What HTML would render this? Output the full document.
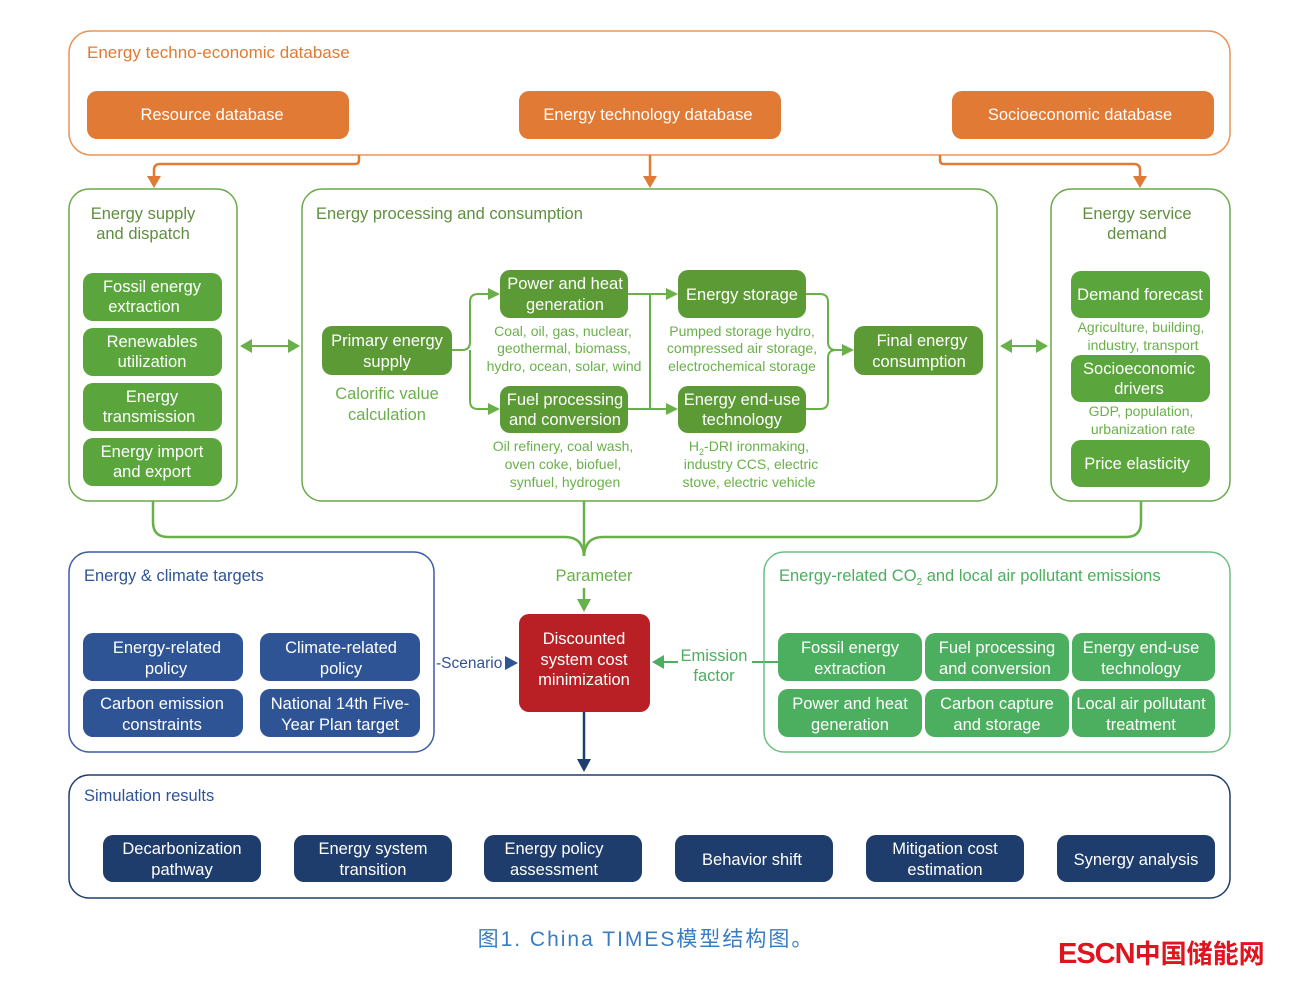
<!DOCTYPE html>
<html><head><meta charset="utf-8"><style>
html,body{margin:0;padding:0;background:#fff;}
svg{display:block;font-family:"Liberation Sans",Arial,sans-serif;}
</style></head><body>
<svg width="1292" height="984" viewBox="0 0 1292 984" xmlns="http://www.w3.org/2000/svg">
<!-- top -->
<rect x="69" y="31" width="1161" height="124" rx="22" fill="none" stroke="#E8955A" stroke-width="1.5"/>
<text x="87" y="58" font-size="17" fill="#E07A34">Energy techno-economic database</text>
<g font-size="16.5" fill="#fff" text-anchor="middle">
<rect x="87" y="91" width="262" height="48" rx="10" fill="#E07A34"/><text x="212" y="120">Resource database</text>
<rect x="519" y="91" width="262" height="48" rx="10" fill="#E07A34"/><text x="648" y="120">Energy technology database</text>
<rect x="952" y="91" width="262" height="48" rx="10" fill="#E07A34"/><text x="1080" y="120">Socioeconomic database</text>
</g>
<g stroke="#E07A34" stroke-width="2.5" fill="none">
<path d="M359,155 V160 Q359,164 355,164 H160 Q154,164 154,170 V178"/>
<path d="M650,155 V178"/>
<path d="M940,155 V160 Q940,164 944,164 H1134 Q1140,164 1140,170 V178"/>
</g>
<g fill="#E07A34"><path d="M147,176 L161,176 L154,188z"/><path d="M643,176 L657,176 L650,188z"/><path d="M1133,176 L1147,176 L1140,188z"/></g>

<!-- green containers -->
<g fill="none" stroke="#6AAA4A" stroke-width="1.5">
<rect x="69" y="189" width="168" height="312" rx="20"/>
<rect x="302" y="189" width="695" height="312" rx="20"/>
<rect x="1051" y="189" width="179" height="312" rx="20"/>
</g>
<g font-size="16.5" fill="#5E8F3E">
<text x="143" y="219" text-anchor="middle">Energy supply</text><text x="143" y="239" text-anchor="middle">and dispatch</text>
<text x="316" y="219">Energy processing and consumption</text>
<text x="1137" y="219" text-anchor="middle">Energy service</text><text x="1137" y="239" text-anchor="middle">demand</text>
</g>
<g fill="#5BA63C"><rect x="83" y="273" width="139" height="48" rx="10"/><rect x="83" y="328" width="139" height="48" rx="10"/><rect x="83" y="383" width="139" height="48" rx="10"/><rect x="83" y="438" width="139" height="48" rx="10"/>
<rect x="1071" y="271" width="139" height="47" rx="10"/><rect x="1071" y="355" width="139" height="47" rx="10"/><rect x="1071" y="440" width="139" height="47" rx="10"/></g>
<g font-size="16.5" fill="#fff" text-anchor="middle">
<text x="152" y="292">Fossil energy</text><text x="144" y="312">extraction</text>
<text x="152" y="347">Renewables</text><text x="152" y="367">utilization</text>
<text x="152" y="402">Energy</text><text x="149" y="422">transmission</text>
<text x="152" y="457">Energy import</text><text x="152" y="477">and export</text>
<text x="1140" y="300">Demand forecast</text>
<text x="1139" y="374">Socioeconomic</text><text x="1139" y="394">drivers</text>
<text x="1137" y="469">Price elasticity</text>
</g>
<g font-size="14" fill="#6AB04A" text-anchor="middle">
<text x="1141" y="332">Agriculture, building,</text><text x="1143" y="350">industry, transport</text>
<text x="1141" y="416">GDP, population,</text><text x="1143" y="434">urbanization rate</text>
</g>
<!-- processing -->
<g fill="#5C9A35">
<rect x="322" y="326" width="130" height="49" rx="10"/>
<rect x="500" y="270" width="128" height="48" rx="10"/>
<rect x="500" y="386" width="128" height="47" rx="10"/>
<rect x="678" y="270" width="128" height="48" rx="10"/>
<rect x="678" y="386" width="128" height="47" rx="10"/>
<rect x="854" y="326" width="129" height="49" rx="10"/>
</g>
<g font-size="16.5" fill="#fff" text-anchor="middle">
<text x="387" y="346">Primary energy</text><text x="387" y="367">supply</text>
<text x="565" y="289">Power and heat</text><text x="565" y="310">generation</text>
<text x="565" y="405">Fuel processing</text><text x="565" y="425">and conversion</text>
<text x="742" y="300">Energy storage</text>
<text x="742" y="405">Energy end-use</text><text x="742" y="425">technology</text>
<text x="922" y="346">Final energy</text><text x="919" y="367">consumption</text>
</g>
<g font-size="16.5" fill="#6AB04A" text-anchor="middle"><text x="387" y="399">Calorific value</text><text x="387" y="420">calculation</text></g>
<g font-size="14" fill="#6AB04A" text-anchor="middle">
<text x="563" y="336">Coal, oil, gas, nuclear,</text><text x="564" y="353">geothermal, biomass,</text><text x="564" y="371">hydro, ocean, solar, wind</text>
<text x="742" y="336">Pumped storage hydro,</text><text x="742" y="353">compressed air storage,</text><text x="742" y="371">electrochemical storage</text>
<text x="563" y="451">Oil refinery, coal wash,</text><text x="563" y="469">oven coke, biofuel,</text><text x="565" y="487">synfuel, hydrogen</text>
<text x="749" y="451">H<tspan font-size="9" dy="4">2</tspan><tspan dy="-4">-DRI ironmaking,</tspan></text><text x="751" y="469">industry CCS, electric</text><text x="749" y="487">stove, electric vehicle</text>
</g>
<g stroke="#6AB04A" stroke-width="2" fill="none">
<path d="M452,350 H462 Q470,350 470,342 V302 Q470,294 478,294 H490"/>
<path d="M470,350 Q470,358 470,366 V401 Q470,409 478,409 H490"/>
<path d="M628,294 H668 M628,409 H668 M650,294 V409"/>
<path d="M806,294 H820 Q828,294 828,302 V342 Q828,350 836,350 H844"/>
<path d="M806,409 H820 Q828,409 828,401 V358 Q828,350 836,350"/>
<path d="M250,346 H290 M1010,346 H1038"/>
</g>
<g fill="#6AB04A">
<path d="M488,288 L500,294 L488,300z"/><path d="M488,403 L500,409 L488,415z"/>
<path d="M666,288 L678,294 L666,300z"/><path d="M666,403 L678,409 L666,415z"/>
<path d="M842,344 L854,350 L842,356z"/>
<path d="M252,339 L240,346 L252,353z"/><path d="M288,339 L300,346 L288,353z"/>
<path d="M1012,339 L1000,346 L1012,353z"/><path d="M1036,339 L1048,346 L1036,353z"/>
</g>
<!-- connectors to center -->
<g stroke="#6AB04A" stroke-width="2.5" fill="none">
<path d="M153,501 V522 Q153,537 168,537 H565 Q583,537 584,556"/>
<path d="M1141,501 V522 Q1141,537 1126,537 H603 Q585,537 584,556"/>
<path d="M584,501 V556"/>
<path d="M584,588 V600"/>
</g>
<path d="M577,599 L591,599 L584,612z" fill="#6AB04A"/>
<text x="594" y="581" font-size="16.5" fill="#6AB04A" text-anchor="middle">Parameter</text>

<!-- blue container -->
<rect x="69" y="552" width="365" height="200" rx="20" fill="none" stroke="#3A5CA8" stroke-width="1.5"/>
<text x="84" y="581" font-size="16.5" fill="#2E5496">Energy &amp; climate targets</text>
<g fill="#2E5496"><rect x="83" y="633" width="160" height="48" rx="10"/><rect x="260" y="633" width="160" height="48" rx="10"/><rect x="83" y="689" width="160" height="48" rx="10"/><rect x="260" y="689" width="160" height="48" rx="10"/></g>
<g font-size="16.5" fill="#fff" text-anchor="middle">
<text x="167" y="653">Energy-related</text><text x="166" y="674">policy</text>
<text x="341" y="653">Climate-related</text><text x="341" y="674">policy</text>
<text x="162" y="709">Carbon emission</text><text x="162" y="730">constraints</text>
<text x="340" y="709">National 14th Five-</text><text x="340" y="730">Year Plan target</text>
</g>
<text x="436" y="668" font-size="15.5" fill="#2E5496">-Scenario</text>
<path d="M505,656 L518,663 L505,670z" fill="#2E5496"/>

<!-- red -->
<rect x="519" y="614" width="131" height="98" rx="10" fill="#B82025"/>
<g font-size="16.5" fill="#fff" text-anchor="middle"><text x="584" y="644">Discounted</text><text x="584" y="665">system cost</text><text x="584" y="685">minimization</text></g>
<text x="714" y="661" font-size="16.5" fill="#4CAE5F" text-anchor="middle">Emission</text>
<text x="714" y="681" font-size="16.5" fill="#4CAE5F" text-anchor="middle">factor</text>
<path d="M664,662 H678 M752,662 H778" stroke="#4CAE5F" stroke-width="2"/>
<path d="M664,655 L652,662 L664,669z" fill="#4CAE5F"/>
<path d="M584,712 V760" stroke="#1F3E6E" stroke-width="2.5"/>
<path d="M577,759 L591,759 L584,772z" fill="#1F3E6E"/>

<!-- emissions -->
<rect x="764" y="552" width="466" height="200" rx="20" fill="none" stroke="#6CC07E" stroke-width="1.5"/>
<text x="779" y="581" font-size="16.5" fill="#4CAE5F">Energy-related CO<tspan font-size="10" dy="4">2</tspan><tspan dy="-4"> and local air pollutant emissions</tspan></text>
<g fill="#4CAE5F">
<rect x="778" y="633" width="144" height="48" rx="10"/><rect x="925" y="633" width="144" height="48" rx="10"/><rect x="1072" y="633" width="143" height="48" rx="10"/>
<rect x="778" y="689" width="144" height="48" rx="10"/><rect x="925" y="689" width="144" height="48" rx="10"/><rect x="1072" y="689" width="143" height="48" rx="10"/>
</g>
<g font-size="16.5" fill="#fff" text-anchor="middle">
<text x="850" y="653">Fossil energy</text><text x="850" y="674">extraction</text>
<text x="997" y="653">Fuel processing</text><text x="995" y="674">and conversion</text>
<text x="1141" y="653">Energy end-use</text><text x="1141" y="674">technology</text>
<text x="850" y="709">Power and heat</text><text x="850" y="730">generation</text>
<text x="997" y="709">Carbon capture</text><text x="997" y="730">and storage</text>
<text x="1141" y="709">Local air pollutant</text><text x="1141" y="730">treatment</text>
</g>

<!-- results -->
<rect x="69" y="775" width="1161" height="123" rx="20" fill="none" stroke="#1F3E6E" stroke-width="1.5"/>
<text x="84" y="801" font-size="16.5" fill="#2E5496">Simulation results</text>
<g fill="#1E3C6C">
<rect x="103" y="835" width="158" height="47" rx="10"/><rect x="294" y="835" width="158" height="47" rx="10"/><rect x="484" y="835" width="158" height="47" rx="10"/>
<rect x="675" y="835" width="158" height="47" rx="10"/><rect x="866" y="835" width="158" height="47" rx="10"/><rect x="1057" y="835" width="158" height="47" rx="10"/>
</g>
<g font-size="16.5" fill="#fff" text-anchor="middle">
<text x="182" y="854">Decarbonization</text><text x="182" y="875">pathway</text>
<text x="373" y="854">Energy system</text><text x="373" y="875">transition</text>
<text x="554" y="854">Energy policy</text><text x="554" y="875">assessment</text>
<text x="752" y="865">Behavior shift</text>
<text x="945" y="854">Mitigation cost</text><text x="945" y="875">estimation</text>
<text x="1136" y="865">Synergy analysis</text>
</g>

<text x="646" y="946" font-size="21" fill="#3A7CC2" text-anchor="middle" letter-spacing="2" font-family="'Liberation Sans','Noto Sans CJK SC',sans-serif">图1. China TIMES模型结构图。</text>
<text x="1058" y="963" font-size="29" font-weight="bold" fill="#E0141E" letter-spacing="-1" font-family="'Liberation Sans','Noto Sans CJK SC',sans-serif">ESCN<tspan font-size="26" letter-spacing="0">中国储能网</tspan></text>
</svg>
</body></html>
